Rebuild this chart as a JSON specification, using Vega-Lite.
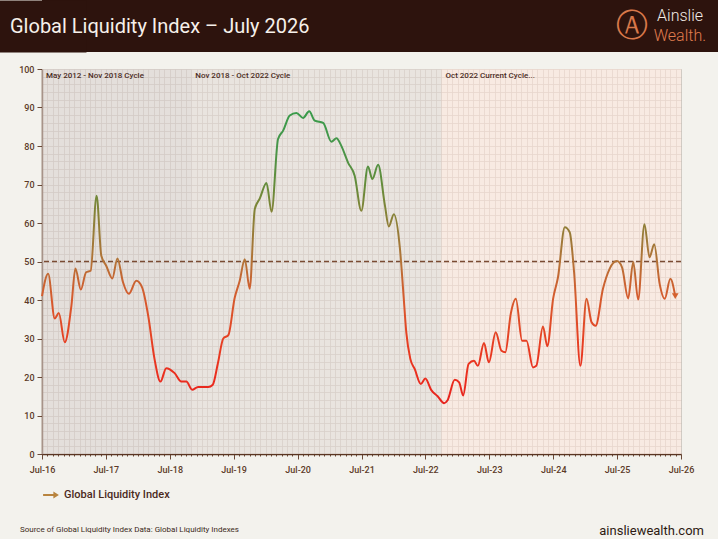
{
  "$schema": "https://vega.github.io/schema/vega-lite/v6.json",
  "description": "Global Liquidity Index - July 2026 (Ainslie Wealth)",
  "background": "#f3f2ed",
  "padding": 0,
  "columns": 1,
  "spacing": 13,
  "datasets": {
    "gli": [
      {"date": "2016-07-01", "value": 41.0}, {"date": "2016-08-05", "value": 46.8}, {"date": "2016-09-12", "value": 35.2},
      {"date": "2016-10-05", "value": 36.6}, {"date": "2016-11-08", "value": 29.0}, {"date": "2016-12-16", "value": 38.5},
      {"date": "2017-01-08", "value": 48.2}, {"date": "2017-02-08", "value": 42.7}, {"date": "2017-03-10", "value": 47.2},
      {"date": "2017-04-05", "value": 47.6}, {"date": "2017-05-09", "value": 67.1}, {"date": "2017-06-05", "value": 51.5},
      {"date": "2017-07-03", "value": 48.9}, {"date": "2017-08-07", "value": 45.6}, {"date": "2017-09-05", "value": 50.8},
      {"date": "2017-10-07", "value": 44.6}, {"date": "2017-11-09", "value": 41.6}, {"date": "2017-12-22", "value": 45.0},
      {"date": "2018-01-24", "value": 43.3}, {"date": "2018-02-28", "value": 35.9}, {"date": "2018-04-05", "value": 24.7},
      {"date": "2018-05-09", "value": 18.8}, {"date": "2018-06-11", "value": 22.3}, {"date": "2018-07-29", "value": 21.0},
      {"date": "2018-09-05", "value": 18.8}, {"date": "2018-10-04", "value": 18.8}, {"date": "2018-11-06", "value": 16.7},
      {"date": "2018-12-10", "value": 17.4}, {"date": "2019-02-06", "value": 17.4}, {"date": "2019-03-04", "value": 18.0},
      {"date": "2019-04-02", "value": 23.5}, {"date": "2019-05-03", "value": 30.0}, {"date": "2019-06-01", "value": 30.9},
      {"date": "2019-07-07", "value": 40.5}, {"date": "2019-08-05", "value": 45.0}, {"date": "2019-09-03", "value": 50.6},
      {"date": "2019-10-01", "value": 42.9}, {"date": "2019-10-30", "value": 63.6}, {"date": "2019-11-28", "value": 66.4},
      {"date": "2020-01-05", "value": 70.4}, {"date": "2020-02-03", "value": 62.9}, {"date": "2020-03-11", "value": 81.8},
      {"date": "2020-04-09", "value": 84.0}, {"date": "2020-05-17", "value": 87.9}, {"date": "2020-06-24", "value": 88.6},
      {"date": "2020-08-01", "value": 87.3}, {"date": "2020-09-05", "value": 89.0}, {"date": "2020-10-07", "value": 86.6},
      {"date": "2020-11-24", "value": 86.0}, {"date": "2021-01-10", "value": 81.1}, {"date": "2021-02-08", "value": 82.0},
      {"date": "2021-03-07", "value": 80.1}, {"date": "2021-04-15", "value": 75.7}, {"date": "2021-05-23", "value": 72.3},
      {"date": "2021-06-30", "value": 63.2}, {"date": "2021-08-07", "value": 74.7}, {"date": "2021-09-01", "value": 71.4},
      {"date": "2021-10-04", "value": 75.1}, {"date": "2021-11-12", "value": 64.5}, {"date": "2021-12-04", "value": 59.1},
      {"date": "2022-01-02", "value": 62.3}, {"date": "2022-02-06", "value": 53.2}, {"date": "2022-02-25", "value": 42.0},
      {"date": "2022-03-14", "value": 31.6}, {"date": "2022-04-06", "value": 24.7}, {"date": "2022-05-01", "value": 22.1},
      {"date": "2022-06-05", "value": 18.2}, {"date": "2022-07-01", "value": 19.6}, {"date": "2022-08-04", "value": 16.6},
      {"date": "2022-09-09", "value": 15.0}, {"date": "2022-10-16", "value": 13.2}, {"date": "2022-11-04", "value": 13.9},
      {"date": "2022-12-16", "value": 19.3}, {"date": "2023-01-10", "value": 18.6}, {"date": "2023-02-02", "value": 15.2},
      {"date": "2023-03-05", "value": 23.4}, {"date": "2023-04-05", "value": 24.2}, {"date": "2023-04-27", "value": 22.9},
      {"date": "2023-06-01", "value": 28.8}, {"date": "2023-06-29", "value": 23.8}, {"date": "2023-08-07", "value": 31.6},
      {"date": "2023-09-09", "value": 26.8}, {"date": "2023-10-01", "value": 26.4}, {"date": "2023-11-01", "value": 36.4},
      {"date": "2023-11-30", "value": 40.3}, {"date": "2024-01-05", "value": 29.4}, {"date": "2024-01-30", "value": 29.4},
      {"date": "2024-03-07", "value": 22.5}, {"date": "2024-03-26", "value": 22.9}, {"date": "2024-05-03", "value": 33.1},
      {"date": "2024-05-28", "value": 28.0}, {"date": "2024-06-30", "value": 40.3}, {"date": "2024-07-28", "value": 45.9},
      {"date": "2024-09-05", "value": 58.9}, {"date": "2024-10-03", "value": 57.6}, {"date": "2024-10-28", "value": 47.2},
      {"date": "2024-12-03", "value": 22.9}, {"date": "2025-01-07", "value": 40.3}, {"date": "2025-02-05", "value": 34.2},
      {"date": "2025-02-28", "value": 33.3}, {"date": "2025-04-11", "value": 42.9}, {"date": "2025-05-19", "value": 48.1},
      {"date": "2025-06-30", "value": 50.1}, {"date": "2025-07-29", "value": 48.5}, {"date": "2025-09-02", "value": 40.4},
      {"date": "2025-10-01", "value": 49.9}, {"date": "2025-10-29", "value": 40.1}, {"date": "2025-12-04", "value": 59.7},
      {"date": "2026-01-02", "value": 51.1}, {"date": "2026-01-29", "value": 54.5}, {"date": "2026-03-01", "value": 44.2},
      {"date": "2026-03-30", "value": 40.3}, {"date": "2026-05-01", "value": 45.5}, {"date": "2026-05-29", "value": 41.0}
    ],
    "latest": [
      {"date": "2026-05-29", "value": 41.0, "series": "Global Liquidity Index"}
    ],
    "cycles": [
      {"start": "2016-07-01", "end": "2018-11-01", "cycle": "May 2012 - Nov 2018 Cycle"},
      {"start": "2018-11-01", "end": "2022-10-01", "cycle": "Nov 2018 - Oct 2022 Cycle"},
      {"start": "2022-10-01", "end": "2026-07-01", "cycle": "Oct 2022 Current Cycle..."}
    ]
  },
  "concat": [
    {
      "width": 676,
      "height": 52,
      "view": {"fill": "#2d130d", "stroke": null},
      "title": {
        "text": "Global Liquidity Index – July 2026",
        "orient": "top",
        "anchor": "start",
        "frame": "group",
        "baseline": "alphabetic",
        "offset": -53,
        "dx": -32,
        "font": "Roboto",
        "fontSize": 20,
        "fontWeight": 400,
        "color": "#f6f0ea"
      },
      "data": {"values": [{"word1": "Ainslie", "word2": "Wealth.", "badge": "Ⓐ"}]},
      "layer": [
        {
          "mark": {"type": "rule", "opacity": 0},
          "encoding": {
            "y": {
              "datum": 0,
              "type": "quantitative",
              "scale": {"domain": [0, 1]},
              "axis": {"title": null, "labels": false, "ticks": false, "grid": false, "domainColor": "#2d130d", "domainWidth": 88, "domainCap": "butt"}
            }
          }
        },
        {
          "mark": {"type": "text", "align": "right", "baseline": "middle", "dx": -15, "dy": -10, "font": "Roboto", "fontSize": 16, "fontWeight": 300, "color": "#f2ebe5"},
          "encoding": {"x": {"value": "width"}, "text": {"field": "word1"}}
        },
        {
          "mark": {"type": "text", "align": "right", "baseline": "middle", "dx": -12, "dy": 10, "font": "Roboto", "fontSize": 16, "fontWeight": 300, "color": "#e07d4e"},
          "encoding": {"x": {"value": "width"}, "text": {"field": "word2"}}
        },
        {
          "mark": {"type": "text", "align": "center", "baseline": "middle", "dx": -86, "font": "DejaVu Sans", "fontSize": 32, "color": "#d8784a"},
          "encoding": {"x": {"value": "width"}, "text": {"field": "badge"}}
        }
      ]
    },
    {
      "width": 639,
      "height": 385,
      "view": {"fill": "#f3f2ed", "stroke": null},
      "resolve": {"scale": {"color": "independent"}},
      "layer": [
        {
          "data": {"name": "cycles"},
          "mark": {"type": "rect", "fillOpacity": 0.6},
          "encoding": {
            "x": {"field": "start", "type": "temporal", "title": null},
            "x2": {"field": "end"},
            "fill": {
              "field": "cycle",
              "type": "nominal",
              "legend": null,
              "scale": {
                "domain": ["May 2012 - Nov 2018 Cycle", "Nov 2018 - Oct 2022 Cycle", "Oct 2022 Current Cycle..."],
                "range": ["#dad2cf", "#e2dbd6", "#fbe5db"]
              }
            }
          }
        },
        {
          "data": {"name": "cycles"},
          "mark": {"type": "text", "align": "left", "baseline": "top", "dx": 4, "dy": 3, "font": "Roboto", "fontSize": 8, "fontWeight": 500, "color": "#4b2c1e"},
          "encoding": {
            "x": {"field": "start", "type": "temporal", "title": null},
            "y": {"datum": 100, "type": "quantitative", "title": null},
            "text": {"field": "cycle"}
          }
        },
        {
          "data": {"values": [{"ref": 50}]},
          "mark": {"type": "rule", "strokeDash": [5, 3], "strokeWidth": 1.4, "color": "#7a4b33"},
          "encoding": {"y": {"field": "ref", "type": "quantitative", "title": null}}
        },
        {
          "data": {"name": "gli"},
          "mark": {
            "type": "line",
            "interpolate": "monotone",
            "strokeWidth": 2,
            "stroke": {
              "gradient": "linear",
              "x1": 0, "y1": 0, "x2": 0, "y2": 1,
              "stops": [
                {"offset": 0, "color": "#3a9b4b"},
                {"offset": 0.119, "color": "#46964a"},
                {"offset": 0.251, "color": "#648c3a"},
                {"offset": 0.356, "color": "#878237"},
                {"offset": 0.449, "color": "#a07838"},
                {"offset": 0.515, "color": "#b47337"},
                {"offset": 0.58, "color": "#c86432"},
                {"offset": 0.646, "color": "#d75a2d"},
                {"offset": 0.778, "color": "#e64123"},
                {"offset": 0.91, "color": "#eb2d1e"},
                {"offset": 1, "color": "#e6231e"}
              ]
            }
          },
          "encoding": {
            "x": {
              "field": "date",
              "type": "temporal",
              "title": null,
              "scale": {"domain": [{"year": 2016, "month": 7, "date": 1}, {"year": 2026, "month": 7, "date": 1}]},
              "axis": {
                "tickCount": {"interval": "month", "step": 1},
                "labelExpr": "month(datum.value) == 6 ? timeFormat(datum.value, '%b-%y') : ''",
                "labelOverlap": false,
                "labelFlush": false,
                "labelFont": "Roboto",
                "labelFontSize": 9,
                "labelFontWeight": 500,
                "labelColor": "#5c3a28",
                "labelPadding": 6,
                "grid": true,
                "gridColor": "#c8c0b9",
                "gridWidth": 0.8,
                "tickColor": "#6b4a38",
                "tickWidth": 1,
                "tickSize": {"condition": {"test": "month(datum.value) == 6", "value": 5}, "value": 2},
                "domainColor": "#5a3522",
                "domainWidth": 1.5
              }
            },
            "y": {
              "field": "value",
              "type": "quantitative",
              "title": null,
              "scale": {"domain": [0, 100], "nice": false},
              "axis": {
                "values": [0, 2, 4, 6, 8, 10, 12, 14, 16, 18, 20, 22, 24, 26, 28, 30, 32, 34, 36, 38, 40, 42, 44, 46, 48, 50, 52, 54, 56, 58, 60, 62, 64, 66, 68, 70, 72, 74, 76, 78, 80, 82, 84, 86, 88, 90, 92, 94, 96, 98, 100],
                "tickCount": 60,
                "labelExpr": "datum.value % 10 == 0 ? datum.label : ''",
                "labelOverlap": false,
                "labelFont": "Roboto",
                "labelFontSize": 9,
                "labelFontWeight": 500,
                "labelColor": "#5c3a28",
                "labelPadding": 3,
                "grid": true,
                "gridColor": "#c8c0b9",
                "gridWidth": 0.8,
                "tickColor": "#6b4a38",
                "tickSize": {"condition": {"test": "datum.value % 10 == 0", "value": 5}, "value": 0},
                "domainColor": "#5a3522",
                "domainWidth": 1.5,
                "minExtent": 42
              }
            }
          }
        },
        {
          "data": {"name": "latest"},
          "mark": {"type": "point", "shape": "triangle-down", "filled": true, "size": 45, "opacity": 1, "color": "#d4602e"},
          "encoding": {
            "x": {"field": "date", "type": "temporal", "title": null},
            "y": {"field": "value", "type": "quantitative", "title": null}
          }
        },
        {
          "data": {"name": "latest"},
          "mark": {"type": "point", "filled": true, "size": 0},
          "encoding": {
            "x": {"field": "date", "type": "temporal", "title": null},
            "y": {"field": "value", "type": "quantitative", "title": null},
            "color": {
              "field": "series",
              "type": "nominal",
              "scale": {"range": ["#b8843e"]},
              "legend": {
                "orient": "bottom",
                "direction": "horizontal",
                "title": null,
                "offset": 12,
                "symbolType": "M-1,-0.12L0.3,-0.12L0.3,-0.45L1,0L0.3,0.45L0.3,0.12L-1,0.12Z",
                "symbolSize": 250,
                "symbolOpacity": 1,
                "labelFont": "Roboto",
                "labelFontSize": 11,
                "labelFontWeight": 500,
                "labelColor": "#4b2a1c"
              }
            }
          }
        }
      ]
    },
    {
      "width": 676,
      "height": 26,
      "view": {"stroke": null},
      "title": {
        "text": "Source of Global Liquidity Index Data: Global Liquidity Indexes",
        "orient": "top",
        "anchor": "start",
        "frame": "group",
        "baseline": "middle",
        "offset": -25,
        "dx": -22,
        "font": "Roboto",
        "fontSize": 8,
        "fontWeight": 400,
        "color": "#3c2a20"
      },
      "data": {"values": [{"site": "ainsliewealth.com"}]},
      "mark": {"type": "text", "align": "right", "baseline": "middle", "dx": -14, "dy": 5, "font": "Roboto", "fontSize": 13, "fontWeight": 400, "color": "#2d1a12"},
      "encoding": {"x": {"value": "width"}, "text": {"field": "site"}}
    }
  ],
  "config": {"font": "Roboto", "view": {"stroke": null}}
}
